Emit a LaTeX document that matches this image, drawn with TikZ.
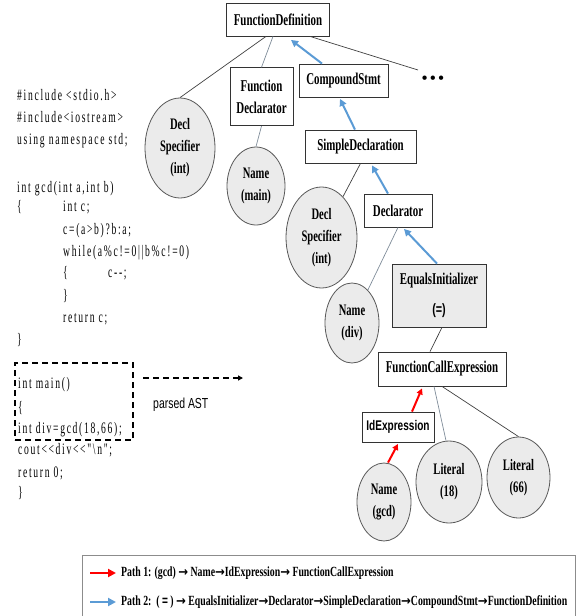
\documentclass[tikz,border=0pt]{standalone}
\usepackage{fontspec}
\usetikzlibrary{shapes.geometric,arrows.meta,calc}
\setmainfont{Liberation Serif}
\newfontfamily\nodefont[FakeStretch=0.66]{Liberation Serif}
\newfontfamily\legfont[FakeStretch=0.7]{Liberation Serif}
\newfontfamily\codefont[FakeStretch=0.6,LetterSpace=10.6]{Liberation Serif}
\newfontfamily\sansnar[FakeStretch=0.72]{Liberation Sans}
\newfontfamily\dotfont{Liberation Serif}
\newfontfamily\arrfont[FakeStretch=0.9]{DejaVu Sans}
\newcommand{\RA}{{\arrfont\bfseries\fontsize{13}{15}\selectfont →}}
\definecolor{edgec}{HTML}{404040}
\definecolor{lightedge}{HTML}{7F8C99}
\definecolor{ellfill}{HTML}{EBEBEB}
\definecolor{ellc}{HTML}{595959}
\definecolor{boxc}{HTML}{333333}
\definecolor{pathblue}{HTML}{5B9BD5}
\definecolor{pathred}{HTML}{FF0000}
\definecolor{legc}{HTML}{8C8C8C}
\begin{document}
\begin{tikzpicture}[x=1pt,y=-1pt,
  astbox/.style={draw=boxc, line width=0.8pt, fill=white, inner sep=0pt, align=center,
    font=\nodefont\bfseries\fontsize{16.5}{22}\selectfont},
  astell/.style={ellipse, draw=ellc, fill=ellfill, line width=0.8pt, inner sep=0pt, align=center,
    font=\nodefont\bfseries\fontsize{16}{22}\selectfont},
  edge/.style={draw=edgec, line width=0.7pt},
  lightline/.style={draw=lightedge, line width=0.7pt},
  bluearr/.style={draw=pathblue, line width=2pt, -{Triangle[length=7pt,width=7pt]}},
  redarr/.style={draw=pathred, line width=2pt, -{Triangle[length=6pt,width=6pt]}},
  legarr/.style={line width=2pt, -{Triangle[length=8pt,width=8pt]}},
  codeline/.style={anchor=base west, inner sep=0pt, font=\codefont\fontsize{16}{18}\selectfont},
  dashbox/.style={draw=black, line width=2pt, dash pattern=on 6pt off 4pt},
  legtext/.style={anchor=west, inner sep=0pt, font=\legfont\bfseries\fontsize{14}{16}\selectfont},
]
\useasboundingbox (0,0) rectangle (581,616);

% ---------- source code ----------
\node[codeline] (c1) at (17,100) {\#include <stdio.h>};
\node[codeline] (c2) at (17,122) {\#include<iostream>};
\node[codeline] (c3) at (17,144) {using namespace std;};
\node[codeline] (c4) at (17,192) {int gcd(int a,int b)};
\node[codeline] (c5) at (17,211) {\{};
\node[codeline] (c5b) at (63,211) {int c;};
\node[codeline] (c6) at (63,234) {c=(a>b)?b:a;};
\node[codeline] (c7) at (63,256) {while(a\%c!=0||b\%c!=0)};
\node[codeline] (c8) at (63,277) {\{};
\node[codeline] (c8b) at (108,277) {c-{}-;};
\node[codeline] (c9) at (63,300) {\}};
\node[codeline] (c10) at (63,322) {return c;};
\node[codeline] (c11) at (17,344) {\}};
\node[codeline] (c12) at (18,388) {int main()};
\node[codeline] (c13) at (18,412) {\{};
\node[codeline] (c14) at (18,433) {int div=gcd(18,66);};
\node[codeline] (c15) at (18,454) {cout<{}<div<{}<"\textbackslash n";};
\node[codeline] (c16) at (18,477) {return 0;};
\node[codeline] (c17) at (18,497) {\}};

% dashed selection and arrow
\node[dashbox, minimum width=118pt, minimum height=77pt, inner sep=0pt] (sel) at (74,401.5) {};
\coordinate (astend) at (243,378);
\draw[dashbox, -{Triangle[length=5pt,width=5pt]}] ($(sel.east)+(9,-23.5)$) -- (astend);
\node[anchor=west, inner sep=0pt, font=\sansnar\fontsize{14.5}{16}\selectfont] (parsed) at (153,405) {parsed AST};

% ---------- AST nodes ----------
\node[astbox, minimum width=103pt, minimum height=33pt] (fd) at (278,19.5) {FunctionDefinition};
\node[astbox, minimum width=63pt, minimum height=58pt] (fdecl) at (261.5,96.7) {Function\\Declarator};
\node[astbox, minimum width=89pt, minimum height=33pt] (cs) at (343.5,80.5) {CompoundStmt};
\node[inner sep=0pt, font=\dotfont\bfseries\fontsize{16}{16}\selectfont] (dots) at (433,80) {•\,•\,•};
\coordinate (dotsend) at (418,70);
\node[astbox, minimum width=111pt, minimum height=33pt] (sd) at (360.5,146.5) {SimpleDeclaration};
\node[astbox, minimum width=68pt, minimum height=33pt] (decl) at (398,210.5) {Declarator};
\node[astbox, fill=ellfill, minimum width=94pt, minimum height=63pt] (ei) at (439,295.5)
  {EqualsInitializer\\[8pt]{\sansnar\bfseries\fontsize{15}{16}\selectfont (=)}};
\node[astbox, minimum width=128pt, minimum height=34pt] (fce) at (442,369) {FunctionCallExpression};
\node[astbox, minimum width=72pt, minimum height=30pt, font=\sansnar\bfseries\fontsize{14}{15}\selectfont] (idx) at (398,427) {IdExpression};

\node[astell, minimum width=70pt, minimum height=100pt] (ds1) at (180,148) {Decl\\Specifier\\(int)};
\node[astell, minimum width=58pt, minimum height=78pt] (nmain) at (256,186) {Name\\(main)};
\node[astell, minimum width=71pt, minimum height=101pt] (ds2) at (321.5,237.5) {Decl\\Specifier\\(int)};
\node[astell, minimum width=54pt, minimum height=80pt] (ndiv) at (352,323) {Name\\(div)};
\node[astell, minimum width=54pt, minimum height=78pt] (ngcd) at (384,502) {Name\\(gcd)};
\node[astell, minimum width=66pt, minimum height=82pt] (lit18) at (449,482) {Literal\\(18)};
\node[astell, minimum width=63pt, minimum height=81pt] (lit66) at (518.5,477.5) {Literal\\(66)};

% ---------- edges ----------
\draw[edge] ($(fd.south)+(-12,0)$) -- (ds1.north);
\draw[lightline] ($(fd.south)+(-5,0)$) -- (fdecl.north);
\draw[edge] ($(fd.south)+(32,0)$) -- (dotsend);
\draw[lightline] (fdecl.south) -- (nmain.north);
\draw[edge] (sd.south) -- (ds2);
\draw[lightline] (decl.south) -- (ndiv);
\draw[edge] ($(ei.south)+(3,0)$) -- ($(fce.north)+(-12,0)$);
\draw[lightline] ($(fce.south)+(-8,0)$) -- ($(lit18.north)+(-3,0)$);
\draw[edge] (fce.south) -- (lit66.north);

% path 2 (blue)
\draw[bluearr] ($(cs.north)+(-21.5,0)$) -- ($(fd.south)+(13,3.5)$);
\draw[bluearr] ($(sd.north)+(-5.5,0)$) -- ($(cs.south)+(-3.5,1.5)$);
\draw[bluearr] ($(decl.north)+(-10,0)$) -- ($(sd.south)+(11.5,2)$);
\draw[bluearr] ($(ei.north)+(-2,0)$) -- ($(decl.south)+(6,1.5)$);
% path 1 (red)
\draw[redarr] ($(ngcd.north)+(4,0)$) -- ($(idx.south)+(0,1.5)$);
\draw[redarr] ($(idx.north)+(14,0)$) -- ($(fce.south)+(-20,2)$);

% ---------- legend ----------
\node[draw=legc, line width=1pt, anchor=north west, minimum width=493pt, minimum height=80pt, inner sep=0pt] (legend) at (82,555) {};
\coordinate (r1) at (90,573);
\coordinate (r2) at (116,573);
\coordinate (b1) at (90,602);
\coordinate (b2) at (116,602);
\draw[legarr, draw=pathred] (r1) -- (r2);
\draw[legarr, draw=pathblue] (b1) -- (b2);
\node[legtext] (leg1) at (121,573) {Path 1: (gcd) \RA\ Name\RA IdExpression\RA\ FunctionCallExpression};
\node[legtext] (leg2) at (121,602) {Path 2:\ \ ( {\sansnar =} ) \RA\ EqualsInitializer\RA Declarator\RA SimpleDeclaration\RA CompoundStmt\RA FunctionDefinition};
\end{tikzpicture}
\end{document}
